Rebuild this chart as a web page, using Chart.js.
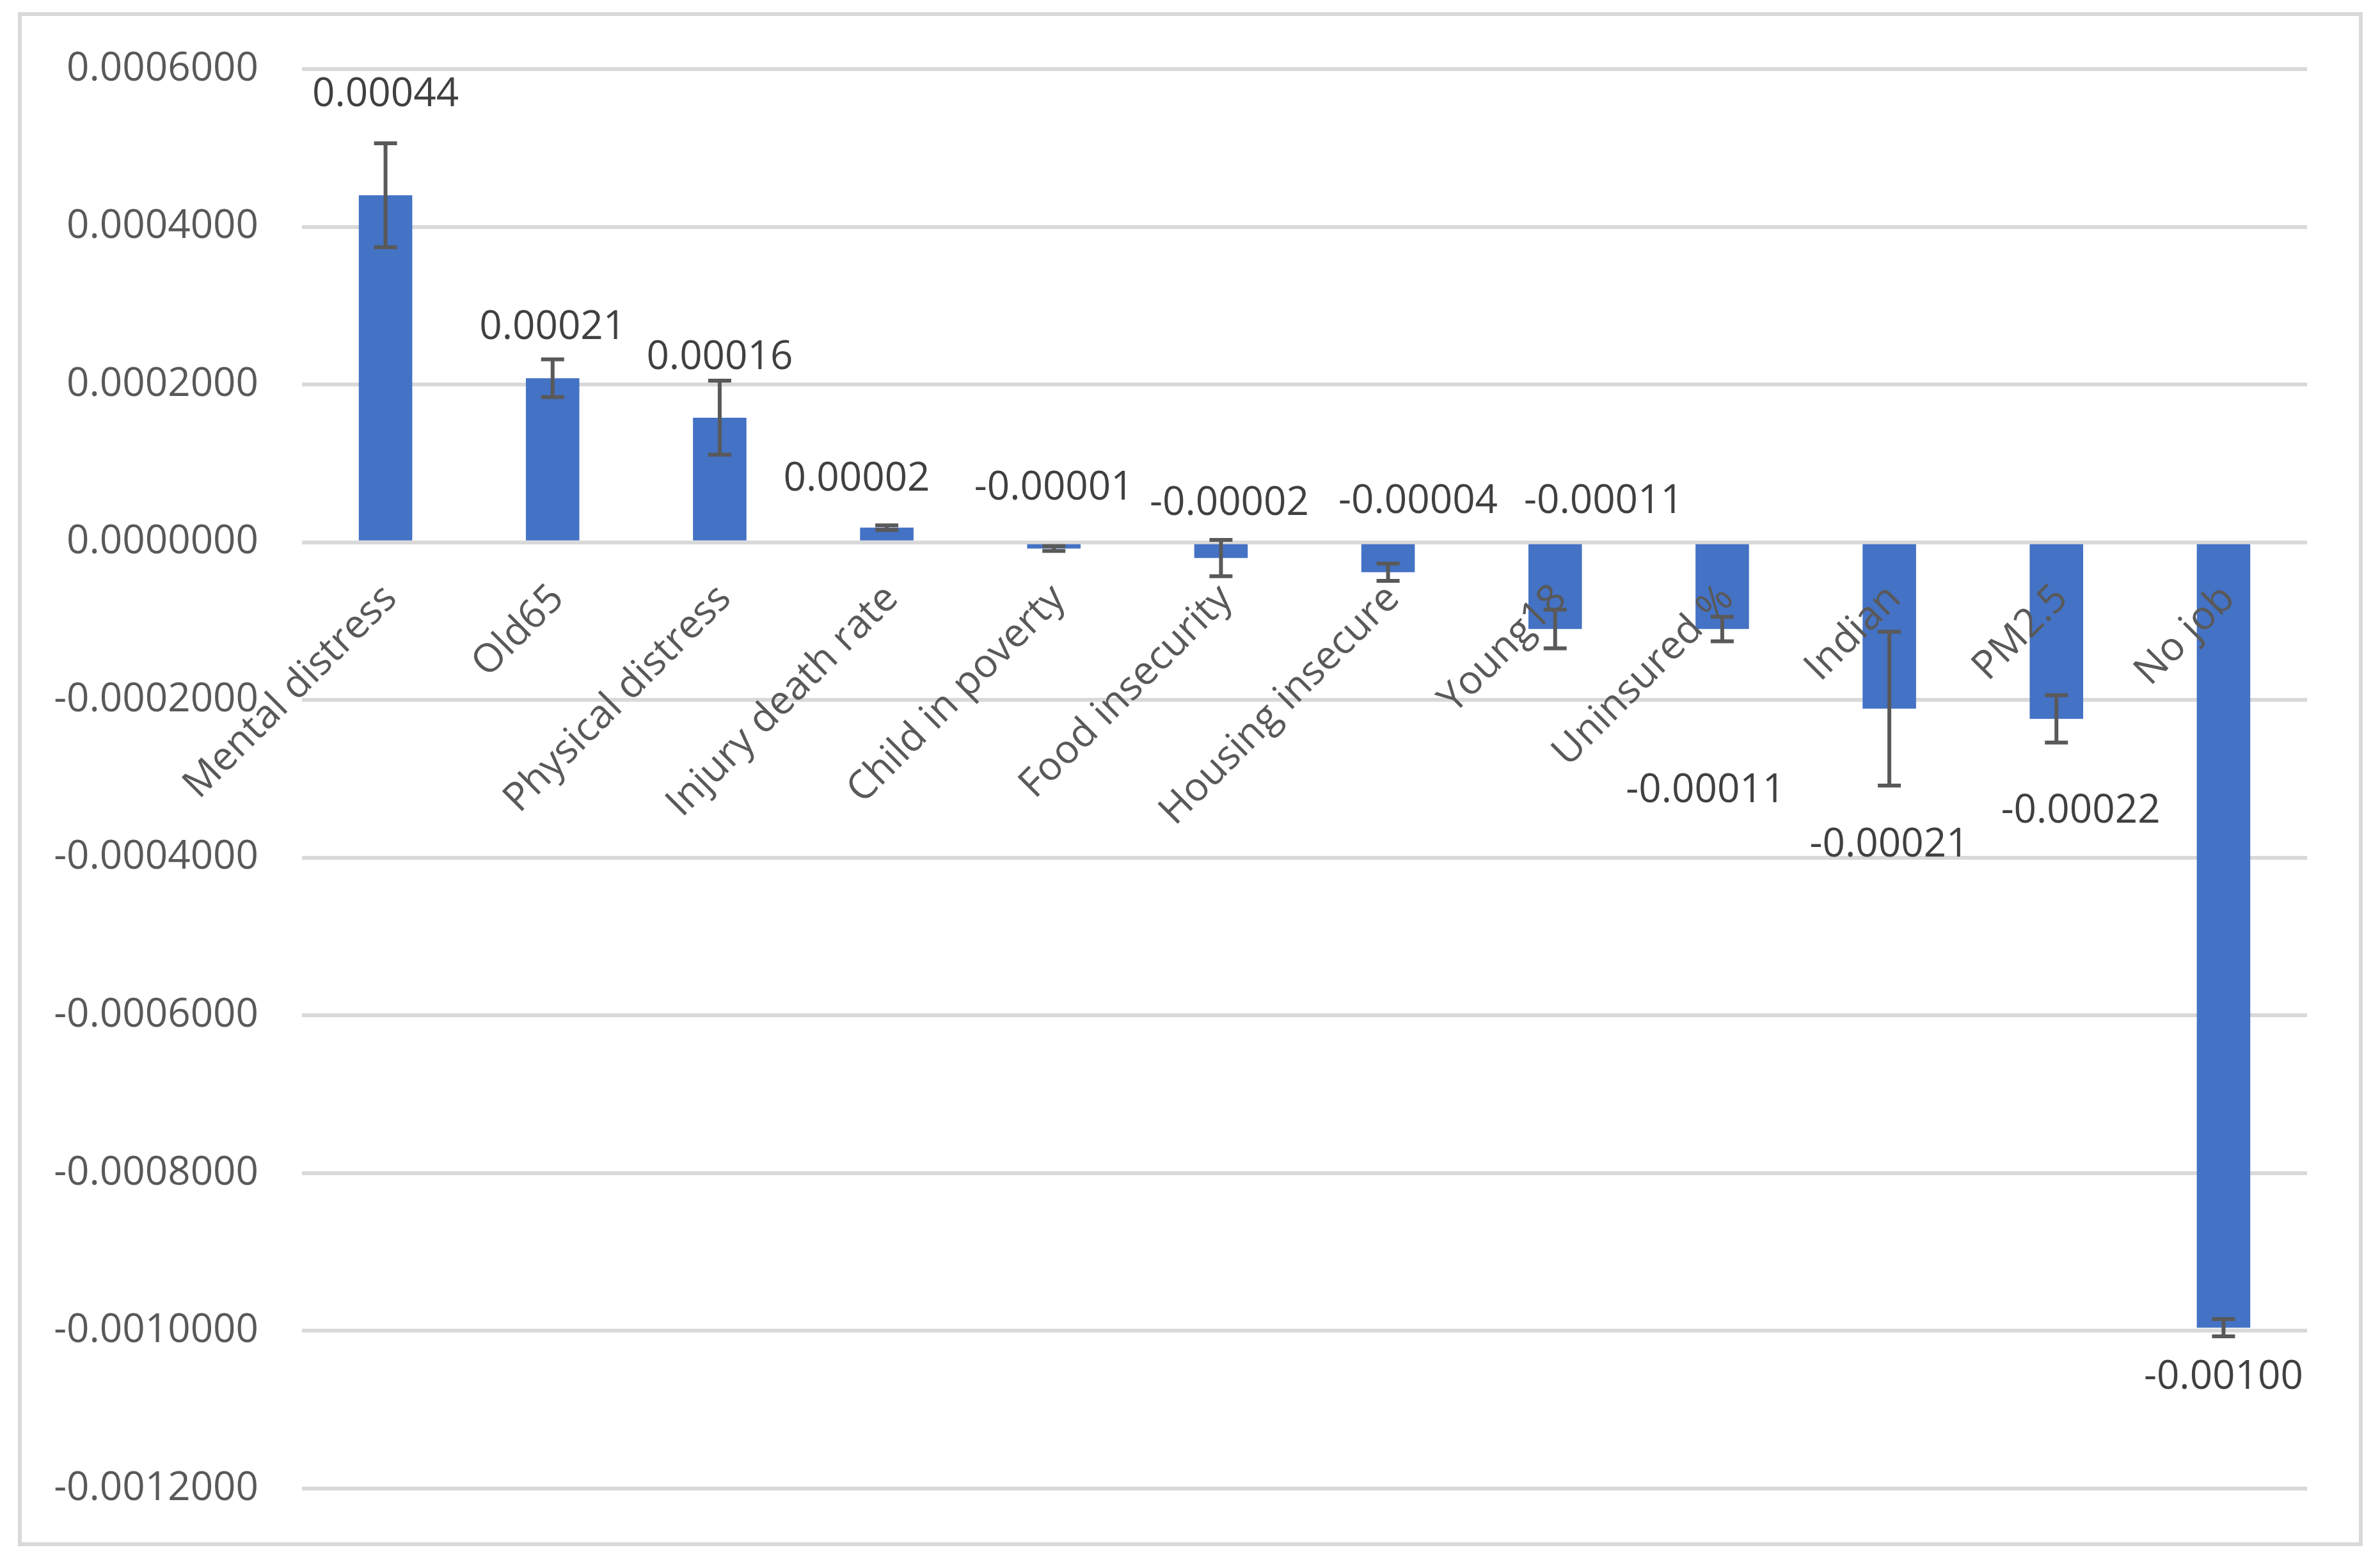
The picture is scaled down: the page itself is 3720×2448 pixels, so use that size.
<!DOCTYPE html>
<html>
<head>
<meta charset="utf-8">
<script src="https://cdn.jsdelivr.net/npm/chart.js@4.4.1/dist/chart.umd.min.js"></script>
<style>
  html, body { margin: 0; padding: 0; background: #ffffff; }
  canvas { display: block; }
</style>
</head>
<body>
<canvas id="coefChart" width="3720" height="2448"></canvas>
<script>
// categories and values
const categories = ['Mental distress', 'Old65', 'Physical distress', 'Injury death rate', 'Child in poverty',
  'Food insecurity', 'Housing insecure', 'Young18', 'Uninsured %', 'Indian', 'PM2.5', 'No job'];
const coefValues = [0.00044, 0.000208, 0.000158, 0.0000185, -0.000008, -0.00002,
  -0.000038, -0.00011, -0.00011, -0.000211, -0.000224, -0.000996];
// symmetric error bar half-widths
const coefErrors = [0.000066, 0.000024, 0.000047, 0.000003, 0.000003, 0.000023,
  0.000011, 0.0000245, 0.0000155, 0.0000975, 0.00003, 0.000011];
const yTicks = [-0.0012, -0.001, -0.0008, -0.0006, -0.0004, -0.0002, 0, 0.0002, 0.0004, 0.0006];

// where the value labels sit (axis units) and sideways nudge (fraction of a category)
const labelAt = [0.000567, 0.000272, 0.000234, 0.0000795, 0.000068, 0.000049,
  0.000051, 0.000051, -0.000315, -0.000384, -0.000341, -0.001059];
const labelShift = [0, 0, 0, -0.18, 0, 0.05, 0.18, 0.29, -0.1, 0, 0.145, 0];

const FONT = "'Open Sans', 'Noto Sans', sans-serif";

const frame = {
  id: 'frame',
  beforeDraw(chart) {
    const ctx = chart.ctx;
    ctx.save();
    ctx.fillStyle = '#ffffff';
    ctx.fillRect(0, 0, chart.width, chart.height);
    ctx.strokeStyle = '#d9d9d9';
    ctx.lineWidth = 6;
    ctx.strokeRect(31, 22, 3659, 2392);
    ctx.restore();
  }
};

const errorBars = {
  id: 'errorBars',
  afterDatasetsDraw(chart) {
    const ctx = chart.ctx;
    const y = chart.scales.y;
    const meta = chart.getDatasetMeta(0);
    ctx.save();
    ctx.strokeStyle = '#595959';
    ctx.lineWidth = 6;
    meta.data.forEach((bar, i) => {
      const top = y.getPixelForValue(coefValues[i] + coefErrors[i]);
      const bot = y.getPixelForValue(coefValues[i] - coefErrors[i]);
      ctx.beginPath();
      ctx.moveTo(bar.x, top);
      ctx.lineTo(bar.x, bot);
      ctx.moveTo(bar.x - 18, top);
      ctx.lineTo(bar.x + 18, top);
      ctx.moveTo(bar.x - 18, bot);
      ctx.lineTo(bar.x + 18, bot);
      ctx.stroke();
    });
    ctx.restore();
  }
};

const valueLabels = {
  id: 'valueLabels',
  afterDatasetsDraw(chart) {
    const ctx = chart.ctx;
    const {x, y} = chart.scales;
    const catW = x.getPixelForValue(1) - x.getPixelForValue(0);
    const meta = chart.getDatasetMeta(0);
    ctx.save();
    ctx.fillStyle = '#404040';
    ctx.font = '62px ' + FONT;
    ctx.textAlign = 'center';
    ctx.textBaseline = 'middle';
    meta.data.forEach((bar, i) => {
      ctx.fillText(coefValues[i].toFixed(5), bar.x + labelShift[i] * catW, y.getPixelForValue(labelAt[i]));
    });
    ctx.restore();
  }
};

new Chart(document.getElementById('coefChart'), {
  type: 'bar',
  data: {
    labels: categories,
    datasets: [{
      data: coefValues,
      backgroundColor: '#4472c4',
      borderWidth: 0,
      barPercentage: 0.32,
      categoryPercentage: 1
    }]
  },
  options: {
    responsive: false,
    devicePixelRatio: 1,
    animation: false,
    layout: { padding: { left: 31, right: 114, top: 108, bottom: 121 } },
    plugins: { legend: { display: false }, tooltip: { enabled: false } },
    scales: {
      x: {
        position: { y: 0 },
        grid: { display: false, drawTicks: false },
        border: { display: false },
        ticks: {
          z: 1,   // category labels sit on top of the bars
          autoSkip: false,
          minRotation: 45,
          maxRotation: 45,
          padding: 52,
          labelOffset: 8,
          color: '#595959',
          font: { family: FONT, size: 62 }
        },
        afterFit(scale) { scale.paddingLeft = 0; scale.paddingRight = 0; }
      },
      y: {
        min: -0.0012,
        max: 0.0006,
        grid: { color: '#d9d9d9', lineWidth: 6, drawTicks: false },
        border: { display: false },
        afterBuildTicks(scale) { scale.ticks = yTicks.map(v => ({ value: v })); },
        ticks: {
          padding: 68,
          color: '#595959',
          font: { family: FONT, size: 62 },
          callback: v => v.toFixed(7)
        },
        afterFit(scale) { scale.width = 441; scale.paddingTop = 0; scale.paddingBottom = 0; }
      }
    }
  },
  plugins: [frame, errorBars, valueLabels]
});
</script>
</body>
</html>
